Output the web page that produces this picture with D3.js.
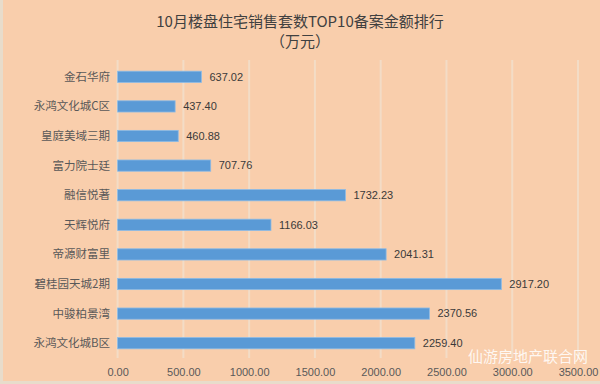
<!DOCTYPE html>
<html><head><meta charset="utf-8">
<script src="https://cdn.jsdelivr.net/npm/d3@7"></script>
<style>body{margin:0;background:#e9dccb;}svg{display:block}</style>
</head><body>
<svg id="c" width="600" height="384"></svg>
<script>
const categories = ["金石华府","永鸿文化城C区","皇庭美域三期","富力院士廷","融信悦著","天辉悦府","帝源财富里","碧桂园天城2期","中骏柏景湾","永鸿文化城B区"];
const values = [637.02,437.40,460.88,707.76,1732.23,1166.03,2041.31,2917.20,2370.56,2259.40];
const ticks = [0,500,1000,1500,2000,2500,3000,3500];
const titleLines = ["10月楼盘住宅销售套数TOP10备案金额排行","（万元）"];

const svg = d3.select("#c");
svg.append("rect").attr("x",0).attr("y",0).attr("width",600).attr("height",384).attr("fill","#e8dccb");
svg.append("rect").attr("x",3).attr("y",0).attr("width",597).attr("height",381).attr("fill","#f9ceac");

const x = d3.scaleLinear().domain([0,3500]).range([117.6,578]);
const y = d3.scaleBand().domain(categories).range([62,358]).paddingInner(0.62).paddingOuter(0.31);

const cjk = "'Noto Sans CJK SC', sans-serif";
svg.selectAll("text.title").data(titleLines).enter().append("text")
  .attr("x",300).attr("y",(d,i)=>27+i*20).attr("text-anchor","middle")
  .attr("font-family",cjk).attr("font-size",15).attr("fill","#404040").text(d=>d);

// gridlines
svg.append("g").selectAll("line").data(ticks).enter().append("line")
  .attr("x1",d=>x(d)).attr("x2",d=>x(d)).attr("y1",60).attr("y2",358)
  .attr("stroke","#f3dcc6").attr("stroke-width",2);

// bars
svg.append("g").selectAll("rect").data(categories).enter().append("rect")
  .attr("x",x(0)).attr("y",d=>y(d)).attr("height",y.bandwidth())
  .attr("width",(d,i)=>x(values[i])-x(0))
  .attr("fill","#5a9ad6").attr("stroke","#8dbbe6").attr("stroke-width",0.8);

// value labels
svg.append("g").selectAll("text").data(categories).enter().append("text")
  .attr("x",(d,i)=>x(values[i])+8).attr("y",d=>y(d)+y.bandwidth()/2).attr("dy","0.35em")
  .attr("font-family","'Liberation Sans', Arial, sans-serif").attr("font-size",11).attr("fill","#3a3a3a")
  .text((d,i)=>values[i].toFixed(2));

// category axis labels
svg.append("g").selectAll("text").data(categories).enter().append("text")
  .attr("x",110).attr("y",d=>y(d)+y.bandwidth()/2).attr("dy","0.35em").attr("text-anchor","end")
  .attr("font-family",cjk).attr("font-size",11.5).attr("fill","#595959").text(d=>d);

// x axis tick labels
const ax = d3.axisBottom(x).tickValues(ticks).tickFormat(d=>d.toFixed(2)).tickSize(0).tickPadding(0);
const g = svg.append("g").attr("transform","translate(0,368)").call(ax);
g.select(".domain").remove();
g.selectAll("text").attr("font-family","'Liberation Sans', Arial, sans-serif").attr("font-size",11).attr("fill","#595959");

// watermark text (bottom right)
svg.append("text").attr("x",588).attr("y",362).attr("text-anchor","end")
  .attr("font-family",cjk).attr("font-size",15).attr("fill","#ffffff").attr("fill-opacity",0.85).text("仙游房地产联合网");
</script>
</body></html>
